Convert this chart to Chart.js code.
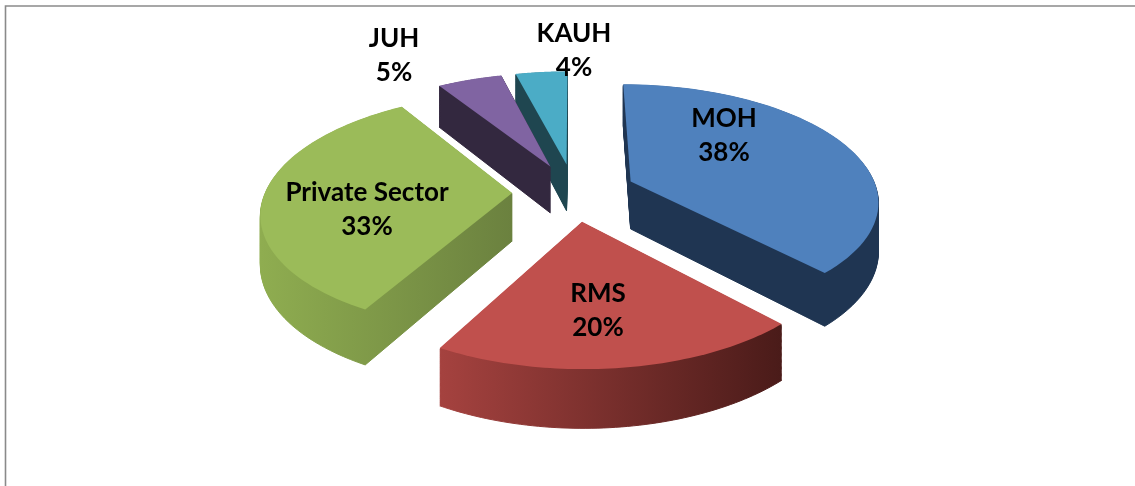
<!DOCTYPE html>
<html><head><meta charset="utf-8">
<style>html,body{margin:0;padding:0;background:#fff}canvas{display:block}</style>
<script src="https://cdn.jsdelivr.net/npm/chart.js@4"></script>
</head><body><canvas id="c" width="1135" height="486"></canvas>
<script>
const categories = ['MOH', 'RMS', 'Private Sector', 'JUH', 'KAUH'];
const shares = [38, 20, 33, 5, 4];
const topColors = ['#4F81BD', '#C0504D', '#9BBB59', '#8064A2', '#4BACC6'];
const sideLight = ['#1F3552', '#A5423F', '#8FAD50', '#33283F', '#1F4650'];
const sideDark = ['#1F3552', '#4A1B19', '#6B813F', '#33283F', '#1F4650'];

const view = {cx: 574, cy: 192, a: 247, b: 115, p: 0.152, depth: 48};
const labelAnchors = [[724, 136], [598, 311], [367, 210], [394, 56], [574, 51]];
const paintOrder = [4, 3, 0, 2, 1];

function project(x, y, z) {
  const w = 1 / (1 - view.p * y);
  return [view.cx + x * w * view.a, view.cy + y * w * view.b + z * w];
}

const pie3d = {
  id: 'pie3d',
  beforeDatasetsDraw(chart) {
    const ctx = chart.ctx;
    const arcs = chart.getDatasetMeta(0).data;
    ctx.save();
    ctx.strokeStyle = '#8A8A8A';
    ctx.lineWidth = 1.6;
    ctx.beginPath();
    ctx.moveTo(5.5, 486); ctx.lineTo(5.5, 6); ctx.lineTo(1135, 6);
    ctx.stroke();
    paintOrder.forEach(i => {
      const arc = arcs[i];
      const R = arc.outerRadius;
      const mid = (arc.startAngle + arc.endAngle) / 2;
      const off = arc.options.offset / 4 / R;
      const ox = Math.cos(mid) * off, oy = Math.sin(mid) * off;
      const outline = [[ox, oy]];
      const n = 64;
      for (let k = 0; k <= n; k++) {
        const t = arc.startAngle + (arc.endAngle - arc.startAngle) * k / n;
        outline.push([ox + Math.cos(t), oy + Math.sin(t)]);
      }
      const trace = z => {
        ctx.beginPath();
        outline.forEach((q, j) => {
          const s = project(q[0], q[1], z);
          if (j) ctx.lineTo(s[0], s[1]); else ctx.moveTo(s[0], s[1]);
        });
        ctx.closePath();
      };
      const xs = outline.map(q => project(q[0], q[1], 0)[0]);
      const grad = ctx.createLinearGradient(Math.min(...xs), 0, Math.max(...xs), 0);
      grad.addColorStop(0, sideLight[i]);
      grad.addColorStop(1, sideDark[i]);
      ctx.fillStyle = grad;
      ctx.strokeStyle = grad;
      ctx.lineWidth = 1;
      for (let z = view.depth; z > 0; z -= 1) { trace(z); ctx.fill(); ctx.stroke(); }
      trace(0);
      ctx.fillStyle = arc.options.backgroundColor;
      ctx.fill();
    });
    ctx.fillStyle = '#000';
    ctx.font = 'bold 26px Lato';
    ctx.textAlign = 'center';
    ctx.textBaseline = 'middle';
    categories.forEach((name, i) => {
      const [x, y] = labelAnchors[i];
      ctx.fillText(name, x, y - 17);
      ctx.fillText(shares[i] + '%', x, y + 17);
    });
    ctx.restore();
    return false;
  }
};

new Chart(document.getElementById('c'), {
  type: 'pie',
  data: {
    labels: categories,
    datasets: [{data: shares, backgroundColor: topColors, borderWidth: 0, offset: 162}]
  },
  options: {
    responsive: false,
    animation: false,
    layout: {padding: 0},
    plugins: {legend: {display: false}, tooltip: {enabled: false}}
  },
  plugins: [pie3d]
});
</script></body></html>
